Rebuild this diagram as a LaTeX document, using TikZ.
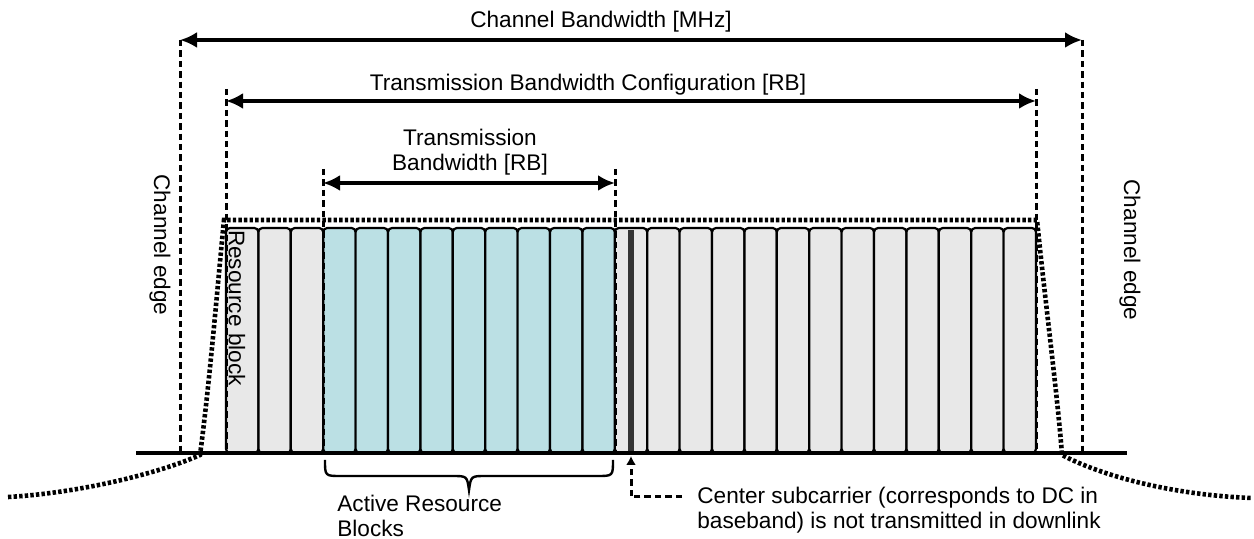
\documentclass[tikz,border=0pt]{standalone}
\usepackage{fontspec}
\setmainfont{Liberation Sans}
\usetikzlibrary{calc,positioning,arrows.meta}
\definecolor{rbgray}{RGB}{232,232,232}
\definecolor{rbteal}{RGB}{187,224,228}

\begin{document}
\begin{tikzpicture}[
    x=0.5pt, y=-0.5pt,
    lbl/.style={font=\fontsize{11.3}{12.5}\selectfont, inner sep=0pt},
    dimarrow/.style={{Latex[length=8.5pt,width=8pt]}-{Latex[length=8.5pt,width=8pt]}, line width=1.7pt},
    guide/.style={line width=1.5pt, dash pattern=on 3.2pt off 2pt},
    mask/.style={line width=2.3pt, dash pattern=on 1.7pt off 1.1pt},
    rblock/.style={draw, line width=1.1pt, rounded corners=2pt},
 ]
    \useasboundingbox (0,0) rectangle (1254,539);
    \coordinate (B0) at (136,453);
    \coordinate (B1) at (1127,453);
    \coordinate (CB0) at (180,40);
    \coordinate (CB1) at (1082,40);
    \coordinate (TC0) at (226,101);
    \coordinate (TC1) at (1036,101);
    \coordinate (TB0) at (323,183);
    \coordinate (TB1) at (615,183);

    % resource blocks
    \foreach \i in {0,1,2,12,13,...,24}
        \filldraw[rblock, fill=rbgray] (226+32.4*\i,228) rectangle ++(32.4,225);
    \foreach \i in {3,...,11}
        \filldraw[rblock, fill=rbteal] (226+32.4*\i,228) rectangle ++(32.4,225);
    \fill[black!80] (628,230) rectangle (634,453);

    % spectrum mask
    \draw[mask] (8,497) .. controls (80,493) and (160,473) .. (200,455)
        .. controls (210,380) and (218,280) .. (224,220) -- (1037,220)
        .. controls (1045,300) and (1058,400) .. (1062,455)
        .. controls (1100,475) and (1170,495) .. (1252,498);
    \draw[line width=1.7pt] (B0) -- (B1);

    % guides and dimension arrows
    \draw[guide] (CB0) -- (CB0 |- B0);
    \draw[guide] (CB1) -- (CB1 |- B0);
    \draw[guide] ($(TC0)+(0,-12)$) -- (TC0 |- B0);
    \draw[guide] ($(TC1)+(0,-12)$) -- (TC1 |- B0);
    \draw[guide] ($(TB0)+(0,-14)$) -- (TB0 |- B0);
    \draw[guide] ($(TB1)+(0,-14)$) -- (TB1 |- B0);
    \draw[dimarrow] (CB0) -- (CB1);
    \draw[dimarrow] (TC0) -- (TC1);
    \draw[dimarrow] (TB0) -- (TB1);

    \node[lbl] (CBlbl) at (601,22) {Channel Bandwidth [MHz]};
    \node[lbl] (TClbl) at (588,85) {Transmission Bandwidth Configuration [RB]};
    \node[lbl, align=center] (TBlbl) at (470,152) {Transmission\\Bandwidth [RB]};
    \node[lbl, rotate=-90] (EdgeL) at (160,245) {Channel edge};
    \node[lbl, rotate=-90] (EdgeR) at (1130,250) {Channel edge};
    \node[lbl, rotate=-90] (RBlbl) at (237,308) {Resource block};

    % active blocks brace
    \draw[line width=1.2pt] (325,460) .. controls (325,476) .. (341,476) -- (452,476)
        .. controls (467,476) .. (469,490) .. controls (471,476) .. (486,476)
        -- (597,476) .. controls (613,476) .. (613,460);
    \node[lbl, align=left, anchor=west] (ARBlbl) at (337,516) {Active Resource\\Blocks};

    % center subcarrier
    \node[lbl, align=left, anchor=west] (DClbl) at (697,510)
        {Center subcarrier (corresponds to DC in\\baseband) is not transmitted in downlink};
    \coordinate (DCt) at (631,456);
    \coordinate (DCc) at (631,497);
    \coordinate (DCe) at (682,497);
    \draw[guide, -{Latex[length=4.5pt,width=5pt]}] (DCe) -- (DCc) -- (DCt);

\end{tikzpicture}
\end{document}
